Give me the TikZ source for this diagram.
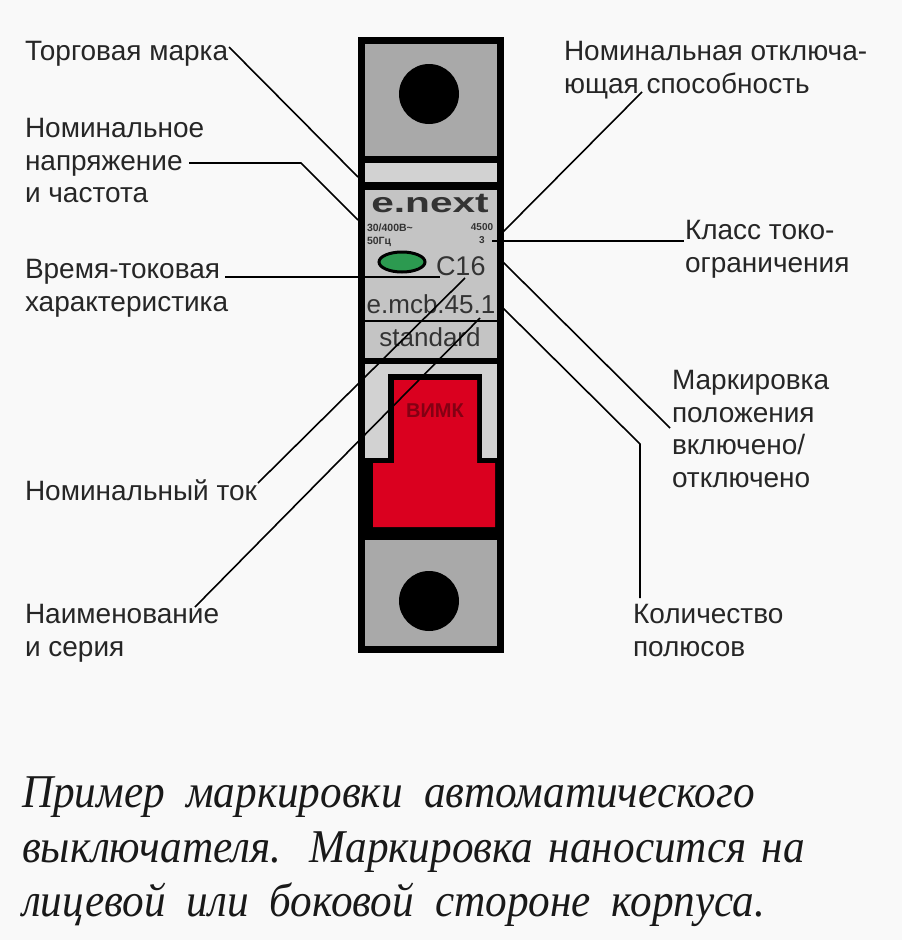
\documentclass[tikz,border=0pt]{standalone}
\usepackage{fontspec}
\setmainfont{Liberation Sans}
\newfontfamily\capfont[FakeStretch=0.92]{Liberation Serif}
\usetikzlibrary{positioning,calc,shapes}
\definecolor{pagebg}{HTML}{F9F9F9}
\definecolor{capgrey}{HTML}{A9A9A9}
\definecolor{lightgrey}{HTML}{D2D2D2}
\definecolor{panelgrey}{HTML}{C4C4C4}
\definecolor{leverred}{HTML}{DA001F}
\definecolor{ledgreen}{HTML}{2C9A50}
\tikzstyle{callout} = [anchor=north west, inner sep=0pt, outer sep=0pt, align=left,
    text=black!85, font=\fontsize{28}{32.8}\selectfont]
\tikzstyle{stamp} = [inner sep=0pt, outer sep=0pt, text=black!80]
\tikzstyle{leader} = [draw, line width=1.6pt, line join=miter]
\tikzstyle{screw} = [draw=none, fill=black, circle, minimum size=60pt, inner sep=0pt]
\begin{document}
\begin{tikzpicture}[x=1pt,y=-1pt]
    \useasboundingbox (0,0) rectangle (902,940);
    \fill [pagebg] (0,0) rectangle (902,940);
    % We start with the breaker housing
    \fill [capgrey] (362,40) rectangle (500,157);
    \fill [lightgrey] (362,157) rectangle (500,186);
    \fill [panelgrey] (362,186) rectangle (500,360);
    \fill [lightgrey] (362,360) rectangle (500,460);
    \fill [black] (362,156) rectangle (500,163);
    \fill [black] (362,182) rectangle (500,190);
    \fill [black] (362,320) rectangle (500,322);
    \fill [black] (362,358) rectangle (500,364);
    \fill [black] (388,374) rectangle (482,460);
    \fill [black] (362,458) rectangle (500,540);
    \fill [leverred] (394,380) -- (477,380) -- (477,463) -- (495,463) -- (495,527)
        -- (373,527) -- (373,463) -- (394,463) -- cycle;
    \fill [capgrey] (362,540) rectangle (500,650);
    \node [draw, line width=7pt, inner sep=0pt, outer sep=0pt, minimum width=139pt,
        minimum height=609pt] (body) at (431,345) {};
    \node [screw] (topscrew) at (429,94) {};
    \node [screw] (botscrew) at (429,601) {};
    \node [draw, line width=3pt, fill=ledgreen, ellipse, minimum width=46pt,
        minimum height=20pt, inner sep=0pt] (led) at (402,262) {};
    % Markings on the front panel
    \node [stamp, anchor=base, font=\bfseries\fontsize{28}{28}\selectfont, xscale=1.45, transform shape,
        text=black!80] (brand) at (430,212) {e.next};
    \node [stamp, anchor=north west, align=left, font=\bfseries\fontsize{10.5}{13}\selectfont] (rating) at (367,224) {30/400В\textasciitilde\\50Гц};
    \node [stamp, anchor=north, align=center, font=\bfseries\fontsize{10}{13}\selectfont] (breaking) at (482,224) {4500\\3};
    \node [stamp, anchor=base west, font=\fontsize{27}{27}\selectfont] (curve) at (436,275) {C16};
    \node [stamp, anchor=base, font=\fontsize{26}{26}\selectfont] (series) at (431,313) {e.mcb.45.1};
    \node [stamp, anchor=base, font=\fontsize{26}{26}\selectfont] (grade) at (430,346) {standard};
    \node [stamp, anchor=base, font=\bfseries\fontsize{20}{20}\selectfont, text=leverred!60!black] (lever) at (435,417) {ВИМК};
    % Then the texts round it
    \node [callout] (trademark) at (25,41) {Торговая марка};
    \node [callout] (voltage) at (25,118) {Номинальное\\напряжение\\и частота};
    \node [callout] (timecurve) at (25,259) {Время-токовая\\характеристика};
    \node [callout] (current) at (25,480) {Номинальный ток};
    \node [callout] (name) at (25,604) {Наименование\\и серия};
    \node [callout] (capacity) at (564,41) {Номинальная отключа-\\ющая способность};
    \node [callout] (limit) at (685,220) {Класс токо-\\ограничения};
    \node [callout] (position) at (672,370) {Маркировка\\положения\\включено/\\отключено};
    \node [callout] (poles) at (633,604) {Количество\\полюсов};
    \node [anchor=north west, inner sep=0pt, outer sep=0pt, align=left, text=black!90,
        font=\capfont\itshape\fontsize{47}{54.5}\selectfont] (note) at (22,777)
        {\makebox[733pt][s]{Пример маркировки автоматического}\\
         \makebox[783pt][s]{выключателя. Маркировка наносится на}\\
         \makebox[743pt][s]{лицевой или боковой стороне корпуса.}};
    % Free ends of the connectors
    \coordinate (trademarkout) at (229,47);
    \coordinate (trademarkin) at (358,177);
    \coordinate (voltageout) at (189,163);
    \coordinate (voltagebend) at (301,163);
    \coordinate (voltagein) at (358,220);
    \coordinate (timeout) at (225,277);
    \coordinate (timein) at (440,277);
    \coordinate (currentout) at (258,483);
    \coordinate (currentin) at (465,278);
    \coordinate (nameout) at (195,607);
    \coordinate (namein) at (480,318);
    \coordinate (capacityout) at (642,92);
    \coordinate (capacityin) at (503,232);
    \coordinate (limitin) at (492,241);
    \coordinate (limitout) at (684,241);
    \coordinate (positionin) at (503,262);
    \coordinate (positionout) at (670,428);
    \coordinate (polesin) at (503,308);
    \coordinate (polesbend) at (640,444);
    \coordinate (polesout) at (640,598);
    % Once the nodes are placed, connecting them is easy.
    \draw [leader] (trademarkout) -- (trademarkin);
    \draw [leader] (voltageout) -- (voltagebend) -- (voltagein);
    \draw [leader] (timeout) -- (timein);
    \draw [leader] (currentout) -- (currentin);
    \draw [leader] (nameout) -- (namein);
    \draw [leader] (capacityout) -- (capacityin);
    \draw [leader] (limitin) -- (limitout);
    \draw [leader] (positionin) -- (positionout);
    \draw [leader] (polesin) -- (polesbend) -- (polesout);
\end{tikzpicture}
\end{document}
